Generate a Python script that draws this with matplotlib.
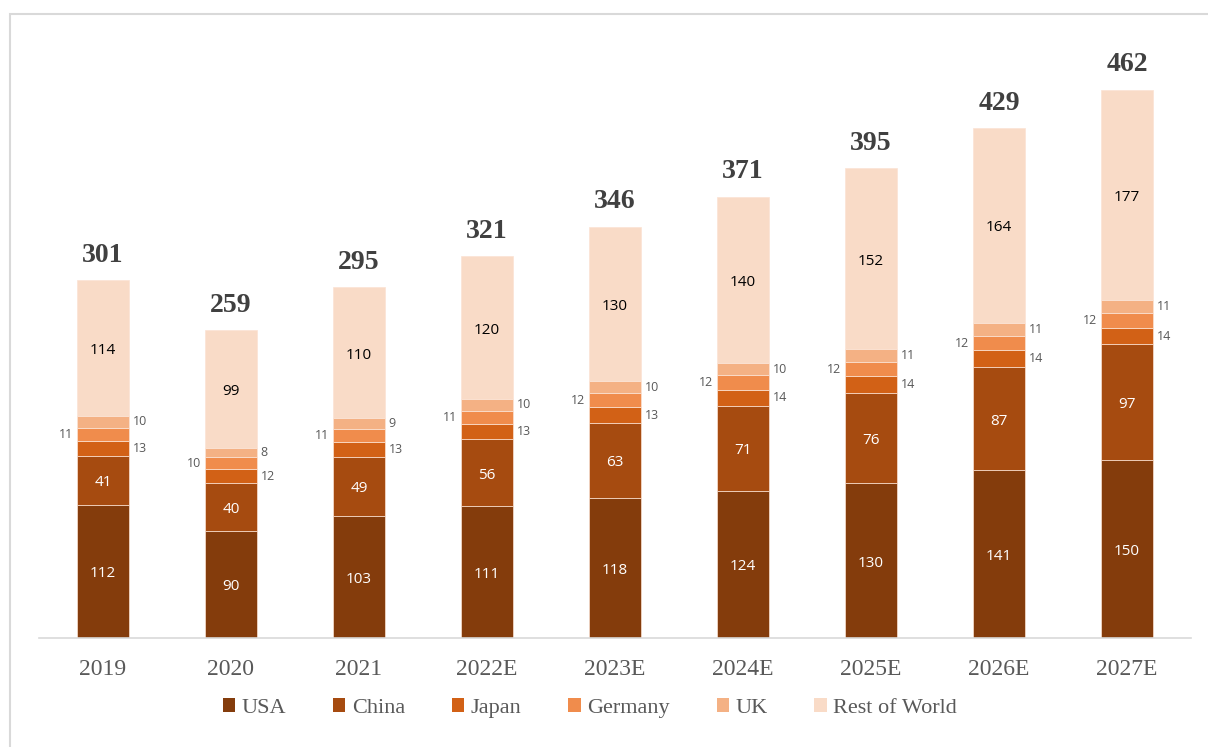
import matplotlib
matplotlib.use("Agg")
import matplotlib.pyplot as plt
from matplotlib.patches import Rectangle, Patch
import numpy as np

years = ["2019", "2020", "2021", "2022E", "2023E", "2024E", "2025E", "2026E", "2027E"]
usa = [112, 90, 103, 111, 118, 124, 130, 141, 150]
china = [41, 40, 49, 56, 63, 71, 76, 87, 97]
japan = [13, 12, 13, 13, 13, 14, 14, 14, 14]
germany = [11, 10, 11, 11, 12, 12, 12, 12, 12]
uk = [10, 8, 9, 10, 10, 10, 11, 11, 11]
rest_of_world = [114, 99, 110, 120, 130, 140, 152, 164, 177]
totals = [301, 259, 295, 321, 346, 371, 395, 429, 462]

series = [
    ("USA", usa, "#843C0C"),
    ("China", china, "#A64B10"),
    ("Japan", japan, "#D26116"),
    ("Germany", germany, "#F08C4C"),
    ("UK", uk, "#F4B184"),
    ("Rest of World", rest_of_world, "#F9DBC7"),
]
# label placement per series: inside centre, right of bar, or left of bar
placement = {"USA": "in", "China": "in", "Japan": "right", "Germany": "left",
             "UK": "right", "Rest of World": "in"}
label_color = {"USA": "white", "China": "white", "Rest of World": "black"}

W, H = 1208, 747
fig = plt.figure(figsize=(W / 100, H / 100), dpi=100)
ax = fig.add_axes([39 / W, 109 / H, (1191 - 39) / W, (638 - 40) / H])

x = np.arange(len(years))
bw = 0.4
bottom = np.zeros(len(years))
sans = "Open Sans"
for name, vals, col in series:
    vals = np.array(vals, dtype=float)
    ax.bar(x, vals, bw, bottom=bottom, color=col, edgecolor="#FBE3D4",
           linewidth=0.5, zorder=2)
    for i, v in enumerate(vals):
        yc = bottom[i] + v / 2
        mode = placement[name]
        if mode == "in":
            ax.text(x[i], yc - 2, f"{int(v)}", ha="center", va="center",
                    fontsize=11, family=sans, color=label_color[name], zorder=3)
        elif mode == "right":
            ax.text(x[i] + bw / 2 + 0.03, yc, f"{int(v)}", ha="left", va="center",
                    fontsize=9, family=sans, color="#595959", zorder=3)
        else:
            ax.text(x[i] - bw / 2 - 0.03, yc, f"{int(v)}", ha="right", va="center",
                    fontsize=9, family=sans, color="#595959", zorder=3)
    bottom += vals

for i, t in enumerate(totals):
    ax.text(x[i], bottom[i] + 21, f"{t}", ha="center", va="center",
            fontsize=20, fontweight="bold", family="Liberation Serif",
            color="#404040")

ax.set_xlim(-0.5, len(years) - 0.5)
ax.set_ylim(0, 503)
ax.set_yticks([])
ax.set_xticks(x)
ax.set_xticklabels(years, family="Liberation Serif", fontsize=17, color="#595959")
ax.tick_params(axis="x", length=0, pad=15)
for s in ["top", "right", "left"]:
    ax.spines[s].set_visible(False)
ax.spines["bottom"].set_color("#D9D9D9")
ax.spines["bottom"].set_linewidth(1.2)

handles = [Patch(facecolor=c, edgecolor="none", label=n) for n, _, c in series]
fig.legend(handles=handles, loc="center", bbox_to_anchor=(590 / W, 1 - 708 / H),
           ncol=6, frameon=False,
           prop={"family": "Liberation Serif", "size": 16},
           labelcolor="#595959", handlelength=0.55, handleheight=0.55,
           handletextpad=0.3, columnspacing=2.1)

# outer frame
fig.patches.append(Rectangle((10 / W, -0.05), 1.2, 1 - 14 / H + 0.05,
                             transform=fig.transFigure, fill=False,
                             edgecolor="#D9D9D9", linewidth=1.5))

fig.savefig("out.png", dpi=100)
